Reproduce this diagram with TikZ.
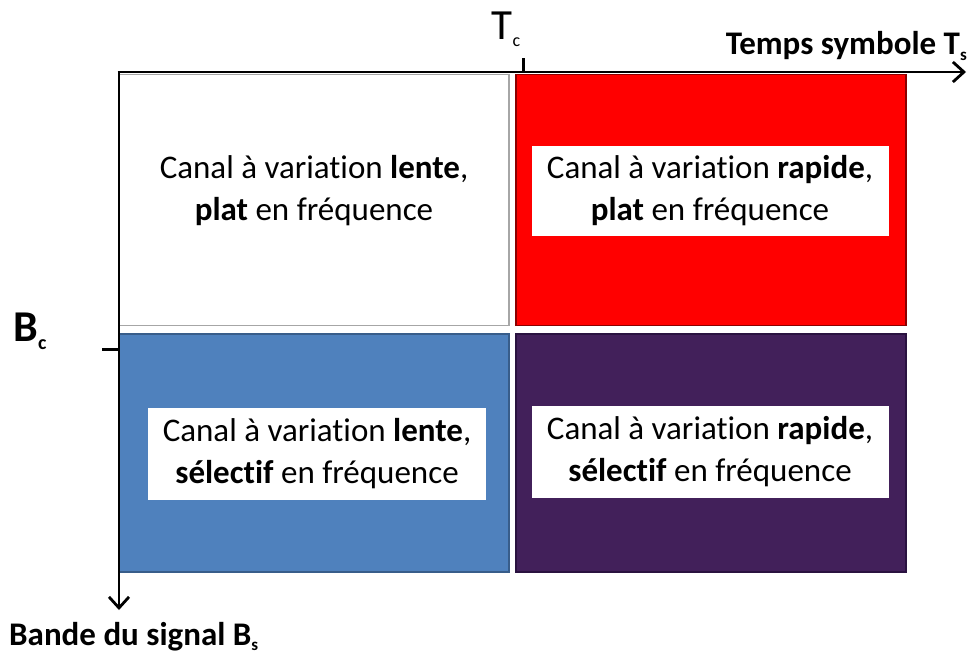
\documentclass[tikz,border=0pt]{standalone}
\usepackage{fontspec}
\setmainfont{Carlito}[Ligatures=NoCommon]
\usetikzlibrary{arrows.meta}
\definecolor{cblue}{HTML}{4F81BD}
\definecolor{cbluedk}{HTML}{385D8A}
\definecolor{cpurple}{HTML}{42205A}
\definecolor{cpurpledk}{HTML}{2A1240}
\definecolor{cred}{HTML}{FF0000}
\definecolor{creddk}{HTML}{8B0000}
\begin{document}
\begin{tikzpicture}[x=1pt,y=-1pt,
  quad/.style={draw, line width=1.6pt, minimum width=390pt, minimum height=250pt, inner sep=0pt},
  label/.style={fill=white, align=center, inner sep=0pt, font=\fontsize{33}{42}\selectfont},
  axis/.style={line width=2.8pt, -{Straight Barb[length=11pt,width=20pt,line width=2.8pt]}},
  tick/.style={line width=3pt},
  axlab/.style={font=\fontsize{33}{36}\selectfont\bfseries, inner sep=0pt}]
\useasboundingbox (0,0) rectangle (967,655);
% quadrants
\node[quad, draw=gray!70, fill=white, minimum height=251pt] (tl) at (314,200) {};
\node[quad, draw=creddk, fill=cred, minimum height=251pt] (tr) at (711,200) {};
\node[quad, draw=cbluedk, fill=cblue, minimum height=238pt] (bl) at (314,453) {};
\node[quad, draw=cpurpledk, fill=cpurple, minimum height=238pt] (br) at (711,453) {};
% texts
\node[label] (ttl) at (314,191) {Canal à variation \textbf{lente},\\\textbf{plat} en fréquence};
\node[label, minimum width=357pt, minimum height=90pt] (ttr) at (710,191) {Canal à variation \textbf{rapide},\\\textbf{plat} en fréquence};
\node[label, minimum width=338pt, minimum height=92pt] (tbl) at (317,454) {Canal à variation \textbf{lente},\\\textbf{sélectif} en fréquence};
\node[label, minimum width=357pt, minimum height=92pt] (tbr) at (710,452) {Canal à variation \textbf{rapide},\\\textbf{sélectif} en fréquence};
% axes
\coordinate (o) at (119,72);
\coordinate (xe) at (966,72);
\coordinate (ye) at (119,610);
\draw[axis] ([xshift=-1.4pt]o) -- (xe);
\draw[axis] (o) -- (ye);
\coordinate (tc) at (523,72);
\coordinate (tct) at (523,58);
\draw[tick] (tc) -- (tct);
\coordinate (bc) at (119,349);
\coordinate (bct) at (102,349);
\draw[tick] (bc) -- (bct);
% labels
\node[font=\fontsize{43}{43}\selectfont, inner sep=0pt, anchor=base] (lt) at (506,40) {T\raisebox{-0.3ex}{\fontsize{18}{18}\selectfont c}};
\node[font=\fontsize{44}{44}\selectfont\bfseries, inner sep=0pt, anchor=base] (lb) at (30,341) {B\raisebox{-0.4ex}{\fontsize{20}{20}\selectfont c}};
\node[axlab, anchor=base east] (lx) at (967,55) {Temps symbole T\raisebox{-0.35ex}{\fontsize{17}{17}\selectfont s}};
\node[axlab, anchor=base west] (ly) at (9,645) {Bande du signal B\raisebox{-0.35ex}{\fontsize{17}{17}\selectfont s}};
\end{tikzpicture}
\end{document}
